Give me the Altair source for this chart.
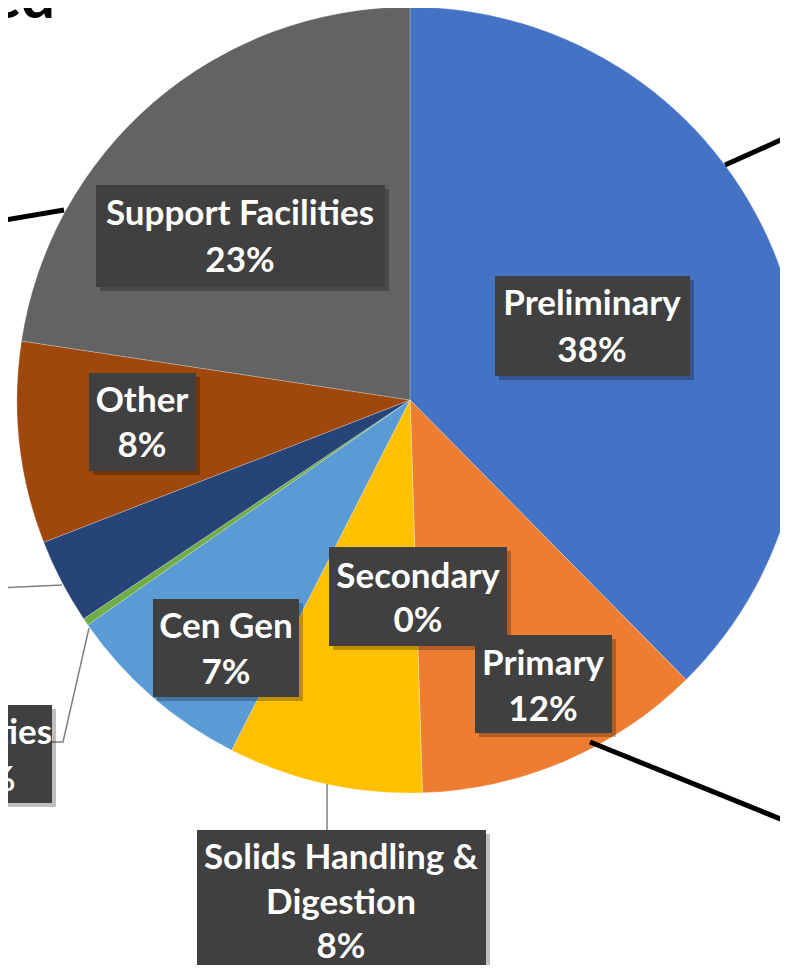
import altair as alt
import pandas as pd

# ---- data ----
categories = ["Preliminary", "Primary", "Secondary", "Solids Handling & Digestion",
              "Cen Gen", "Utilities", "Electrical", "Other", "Support Facilities"]
shares = [37.6, 11.9, 0.0, 8.0, 7.8, 0.3, 3.5, 8.3, 22.6]
pct_labels = ["38%", "12%", "0%", "8%", "7%", "0%", "4%", "8%", "23%"]
colors = ["#4472C4", "#ED7D31", "#A5A5A5", "#FFC000", "#5B9BD5",
          "#70AD47", "#264478", "#9E480E", "#636363"]

# ---- layout (chart pixel coordinates) ----
CX, CY, R = 402, 392, 393
FONT = "Lato"
FS = 35
label_layout = {
    # name: (box x0, y0, x1, y1, text centre x, [line centre y...], [name lines])
    "Support Facilities": (88, 177, 377, 279, 232, [206, 253], ["Support Facilities"]),
    "Preliminary": (487, 268, 682, 368, 584, [296, 343], ["Preliminary"]),
    "Other": (81, 365, 188, 463, 134, [393, 438], ["Other"]),
    "Secondary": (321, 539, 499, 638, 410, [569, 613], ["Secondary"]),
    "Primary": (467, 627, 604, 725, 535, [656, 702], ["Primary"]),
    "Cen Gen": (145, 591, 291, 689, 218, [619, 665], ["Cen Gen"]),
    "Solids Handling & Digestion": (189, 822, 478, 990, 333, [850, 895, 939],
                                    ["Solids Handling &", "Digestion"]),
    "Utilities": (-110, 697, 44, 795, -17, [725, 772], ["Utilities"]),
}

pie_df = pd.DataFrame({"cat": categories, "share": shares,
                       "idx": list(range(len(categories)))})

boxes, texts = [], []
for i, cat in enumerate(categories):
    if cat not in label_layout:
        continue
    x0, y0, x1, y1, tx, ys, lines = label_layout[cat]
    boxes.append({"x0": x0, "y0": y0, "x1": x1, "y1": y1})
    for ly, t in zip(ys, lines + [pct_labels[i]]):
        texts.append({"tx": tx, "ty": ly, "t": t})
box_df = pd.DataFrame(boxes)
text_df = pd.DataFrame(texts)

leader_df = pd.DataFrame([
    {"id": "solids", "o": 0, "x": 319, "y": 776},
    {"id": "solids", "o": 1, "x": 319, "y": 822},
    {"id": "util", "o": 0, "x": 44, "y": 734},
    {"id": "util", "o": 1, "x": 55, "y": 734},
    {"id": "util", "o": 2, "x": 81, "y": 620},
    {"id": "elec", "o": 0, "x": -10, "y": 580},
    {"id": "elec", "o": 1, "x": 54, "y": 577},
])
callout_df = pd.DataFrame([
    {"id": "a", "o": 0, "x": 717, "y": 157}, {"id": "a", "o": 1, "x": 795, "y": 122},
    {"id": "b", "o": 0, "x": 582, "y": 734}, {"id": "b", "o": 1, "x": 795, "y": 820},
    {"id": "c", "o": 0, "x": 56, "y": 202}, {"id": "c", "o": 1, "x": -20, "y": 215},
])

NS = dict(scale=None, axis=None)

shadow = alt.Chart(pd.DataFrame({"v": [1]})).mark_arc(
    radius=R + 6, color="#000000", opacity=0.06
).encode(theta=alt.Theta("v:Q"), x=alt.value(CX + 4), y=alt.value(CY + 6))
shadow2 = alt.Chart(pd.DataFrame({"v": [1]})).mark_arc(
    radius=R + 2, color="#000000", opacity=0.08
).encode(theta=alt.Theta("v:Q"), x=alt.value(CX + 3), y=alt.value(CY + 4))

pie = alt.Chart(pie_df).mark_arc(radius=R, stroke="#ffffff", strokeWidth=0.4,
                                 strokeOpacity=0.6).encode(
    theta=alt.Theta("share:Q", stack=True),
    order=alt.Order("idx:Q"),
    color=alt.Color("cat:N", scale=alt.Scale(domain=categories, range=colors), legend=None),
    x=alt.value(CX), y=alt.value(CY),
)

leaders = alt.Chart(leader_df).mark_line(color="#808080", strokeWidth=1.5).encode(
    x=alt.X("x:Q", **NS), y=alt.Y("y:Q", **NS), detail="id:N", order="o:Q")
callouts = alt.Chart(callout_df).mark_line(color="#000000", strokeWidth=5).encode(
    x=alt.X("x:Q", **NS), y=alt.Y("y:Q", **NS), detail="id:N", order="o:Q")

box_shadow = alt.Chart(box_df).transform_calculate(
    sx0="datum.x0+4", sx1="datum.x1+4", sy0="datum.y0+4", sy1="datum.y1+4"
).mark_rect(color="#000000", opacity=0.25).encode(
    x=alt.X("sx0:Q", **NS), x2="sx1:Q", y=alt.Y("sy0:Q", **NS), y2="sy1:Q")
box = alt.Chart(box_df).mark_rect(color="#404040").encode(
    x=alt.X("x0:Q", **NS), x2="x1:Q", y=alt.Y("y0:Q", **NS), y2="y1:Q")
txt = alt.Chart(text_df).mark_text(
    font=FONT, fontSize=FS, fontWeight="bold", color="#ffffff",
    align="center", baseline="middle"
).encode(x=alt.X("tx:Q", **NS), y=alt.Y("ty:Q", **NS), text="t:N")

title_frag = alt.Chart(pd.DataFrame({"t": ["ed"]})).mark_text(
    font=FONT, fontSize=60, fontWeight="bold", color="#000000",
    align="right", baseline="alphabetic"
).encode(x=alt.value(47), y=alt.value(10), text="t:N")

chart = alt.layer(
    shadow, shadow2, pie, leaders, callouts, box_shadow, box, txt, title_frag
).properties(
    width=772, height=957,
    autosize=alt.AutoSizeParams(type="none"),
    padding=0,
).configure_view(stroke=None)

chart.save("out.html", embed_options={"renderer": "svg", "actions": False})
